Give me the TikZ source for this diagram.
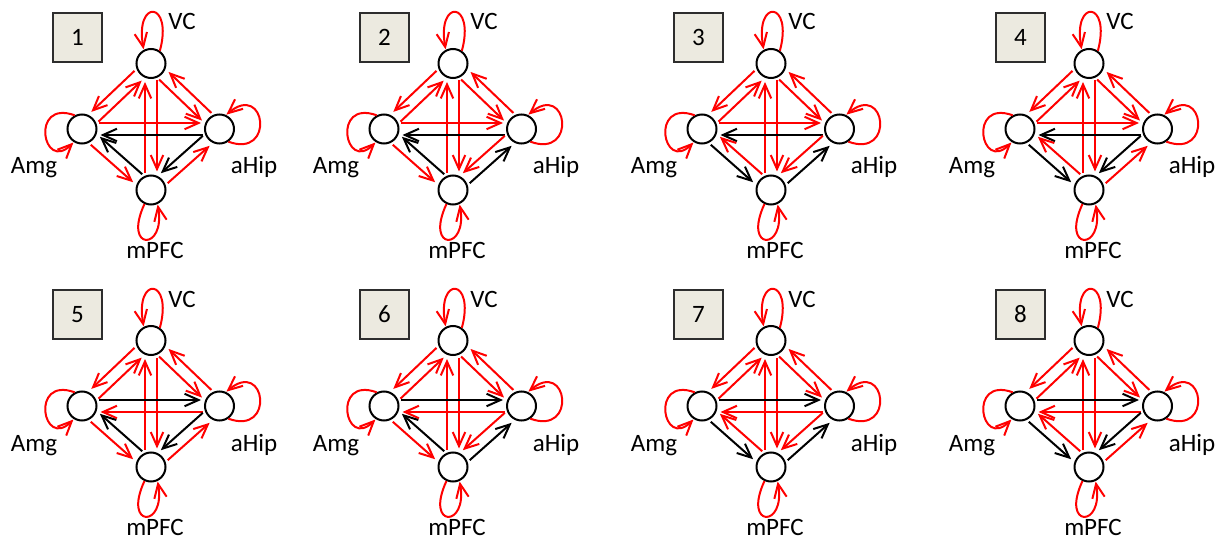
\documentclass[tikz,border=0pt]{standalone}
\usepackage{fontspec}
\setmainfont{Carlito}
\usetikzlibrary{arrows.meta,calc}
\definecolor{linkred}{RGB}{255,0,0}
\definecolor{boxfill}{RGB}{236,234,224}
\definecolor{boxline}{RGB}{45,45,45}
% a link from #2 to #3, offset to the right / left of its own direction
\newcommand\linkR[3]{\draw[link,#1] ($(#2)!6pt!-90:(#3)$) -- ($(#3)!6pt!90:(#2)$);}
\newcommand\linkL[3]{\draw[link,#1] ($(#2)!6pt!90:(#3)$) -- ($(#3)!6pt!-90:(#2)$);}
\begin{document}
\begin{tikzpicture}[x=1pt,y=-1pt,
  nd/.style={circle,draw=black,line width=2pt,minimum size=29pt,inner sep=0pt,fill=white},
  lbl/.style={font=\fontsize{25}{30}\selectfont,inner sep=0pt,anchor=base},
  numbox/.style={draw=boxline,fill=boxfill,line width=1.8pt,minimum size=49.4pt,inner sep=0pt,font=\fontsize{25}{30}\selectfont},
  tip/.style={-{Straight Barb[length=14pt,width=12.5pt]}},
  link/.style={line width=2pt,tip,shorten <=17pt,shorten >=18.5pt},
  selfloop/.style={line width=2pt,linkred,tip,shorten >=0.5pt}
]
\useasboundingbox (0,0) rectangle (1231,540);

% n / x shift / y shift / box left / Amg->aHip / aHip->Amg / mPFC->Amg / Amg->mPFC / aHip->mPFC / mPFC->aHip
\foreach \n/\xo/\yo/\bx/\cah/\cha/\cma/\cam/\chm/\cmh in {
  1/0/0/52/linkred/black/black/linkred/black/linkred,
  2/302/0/359/linkred/black/black/linkred/linkred/black,
  3/620/0/673/linkred/black/linkred/black/linkred/black,
  4/938/0/995/linkred/black/linkred/black/black/linkred,
  5/0/277/52/black/linkred/black/linkred/black/linkred,
  6/302/277/359/black/linkred/black/linkred/linkred/black,
  7/620/277/673/black/linkred/linkred/black/linkred/black,
  8/938/277/995/black/linkred/linkred/black/black/linkred}
{
  \node[numbox] (box\n) at ({\bx+25.5},{\yo+37.5}) {\n};
  \begin{scope}[shift={(\xo,\yo)}]
    \node[nd] (VC\n)   at (151,63.5) {};
    \node[nd] (Amg\n)  at (82,129) {};
    \node[nd] (aHip\n) at (219.5,129) {};
    \node[nd] (mPFC\n) at (151,190) {};

    \node[lbl] (tVC\n)   at (182,30)  {VC};
    \node[lbl] (tAmg\n)  at (34,174)  {Amg};
    \node[lbl] (taHip\n) at (254,174) {aHip};
    \node[lbl] (tmPFC\n) at (155,258) {mPFC};

    % self connections
    \draw[selfloop] (VC\n.55) .. controls +(75:52pt) and +(100:52pt) .. (VC\n.118);
    \draw[selfloop] (Amg\n.118) .. controls +(160:48pt) and +(225:44pt) .. (Amg\n.238);
    \draw[selfloop] (aHip\n.-55) .. controls +(-20:50pt) and +(40:52pt) .. (aHip\n.65);
    \draw[selfloop] (mPFC\n.245) .. controls +(245:52pt) and +(280:48pt) .. (mPFC\n.295);

    % links that are the same in every panel
    \linkR{linkred}{VC\n}{Amg\n}
    \linkR{linkred}{Amg\n}{VC\n}
    \linkR{linkred}{aHip\n}{VC\n}
    \linkR{linkred}{VC\n}{aHip\n}
    \linkL{linkred}{mPFC\n}{VC\n}
    \linkL{linkred}{VC\n}{mPFC\n}

    % links whose colour changes from panel to panel
    \linkL{\cah}{Amg\n}{aHip\n}
    \linkL{\cha}{aHip\n}{Amg\n}
    \linkR{\cma}{mPFC\n}{Amg\n}
    \linkR{\cam}{Amg\n}{mPFC\n}
    \linkR{\chm}{aHip\n}{mPFC\n}
    \linkR{\cmh}{mPFC\n}{aHip\n}
  \end{scope}
}
\end{tikzpicture}
\end{document}
